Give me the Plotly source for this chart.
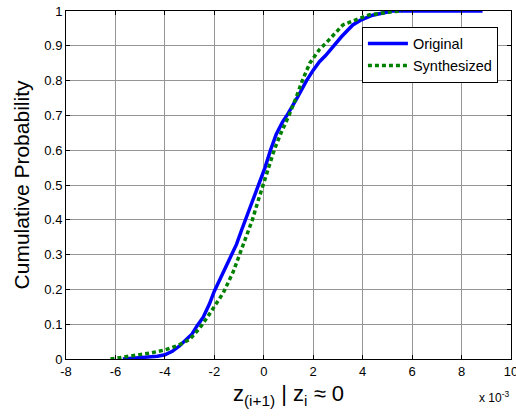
import plotly.graph_objects as go

# values in units of 1e-3
orig_x = [-5.7, -5.2, -4.7, -4.3, -4.0, -3.7, -3.4, -3.1, -2.9, -2.7, -2.45, -2.2, -2.0,
          -1.8, -1.55, -1.3, -1.1, -0.9, -0.74, -0.45, -0.2, 0.05, 0.27, 0.5, 0.75, 0.98,
          1.35, 1.73, 2.0, 2.26, 2.5, 2.8, 3.14, 3.6, 3.9, 4.4, 4.8, 5.2, 8.85]
orig_y = [0.0, 0.002, 0.005, 0.008, 0.012, 0.022, 0.038, 0.058, 0.072, 0.095, 0.12, 0.158, 0.195,
          0.225, 0.262, 0.295, 0.33, 0.37, 0.40, 0.45, 0.50, 0.55, 0.60, 0.645, 0.68, 0.705,
          0.75, 0.80, 0.83, 0.855, 0.872, 0.897, 0.926, 0.96, 0.973, 0.988, 0.995, 1.0, 1.0]

synth_x = [-6.2, -5.7, -5.2, -4.6, -4.0, -3.5, -3.0, -2.6, -2.3, -2.0, -1.64, -1.24, -0.97,
           -0.7, -0.46, -0.25, -0.03, 0.2, 0.42, 0.7, 1.02, 1.3, 1.56, 1.86, 2.26, 2.53,
           2.94, 3.2, 3.88, 4.28, 5.2, 5.6]
synth_y = [0.0, 0.005, 0.01, 0.017, 0.026, 0.038, 0.056, 0.088, 0.118, 0.15, 0.19, 0.25, 0.30,
           0.35, 0.40, 0.45, 0.50, 0.55, 0.60, 0.65, 0.70, 0.75, 0.80, 0.85, 0.89, 0.909,
           0.94, 0.96, 0.979, 0.989, 0.998, 1.0]

x_ticks = [-8, -6, -4, -2, 0, 2, 4, 6, 8, 10]
y_ticks = [0, 0.1, 0.2, 0.3, 0.4, 0.5, 0.6, 0.7, 0.8, 0.9, 1]
y_ticktext = ["0", "0.1", "0.2", "0.3", "0.4", "0.5", "0.6", "0.7", "0.8", "0.9", "1"]

FONT = "Liberation Sans, Arial, sans-serif"

fig = go.Figure()
fig.add_trace(go.Scatter(x=orig_x, y=orig_y, mode="lines", name="Original",
                         line=dict(color="#0000ff", width=3.5)))
fig.add_trace(go.Scatter(x=synth_x, y=synth_y, mode="lines", name="Synthesized",
                         line=dict(color="#008000", width=3.5, dash="4px,3px")))

axis_common = dict(showline=True, linecolor="black", linewidth=1, mirror="ticks",
                   ticks="inside", ticklen=4, tickcolor="black", tickwidth=1,
                   showgrid=True, gridcolor="#959595", gridwidth=1, zeroline=False,
                   ticklabeloverflow="allow", automargin=False,
                   tickfont=dict(family=FONT, size=13, color="black"))

fig.update_xaxes(range=[-8, 10], tickvals=x_ticks, ticktext=[str(t) for t in x_ticks],
                 title=dict(text="z<sub>(i+1)</sub> | z<sub>i</sub> \u2248 0",
                            font=dict(family=FONT, size=22, color="black"), standoff=8),
                 **axis_common)
fig.update_yaxes(range=[0, 1], tickvals=y_ticks, ticktext=y_ticktext,
                 title=dict(text="Cumulative Probability",
                            font=dict(family=FONT, size=21, color="black"), standoff=8),
                 **axis_common)

fig.add_annotation(text="x 10<sup>-3</sup>", xref="paper", yref="paper", x=1.0, y=0,
                   xanchor="right", yanchor="middle", yshift=-38, showarrow=False,
                   font=dict(family=FONT, size=12, color="black"))

fig.update_layout(
    width=516, height=419,
    margin=dict(l=66, r=5, t=11, b=60, autoexpand=False),
    paper_bgcolor="white", plot_bgcolor="white",
    showlegend=True,
    legend=dict(x=0.665, y=0.955, xanchor="left", yanchor="top",
                bgcolor="white", bordercolor="black", borderwidth=1,
                font=dict(family=FONT, size=14.5, color="black"),
                itemwidth=40, tracegroupgap=0),
)

fig.write_html("out.html", config={"displayModeBar": False},
               post_script="document.body.style.margin='0';document.body.style.padding='0';")
